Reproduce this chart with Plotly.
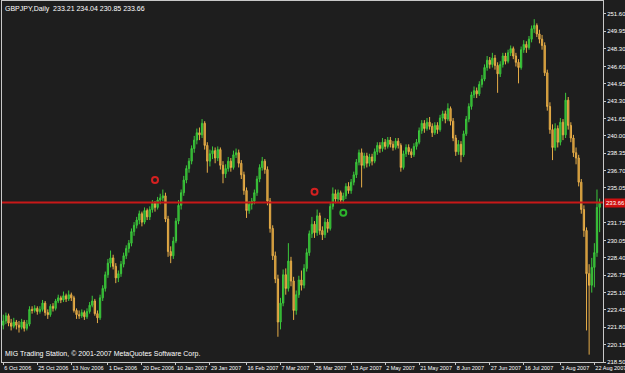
import pandas as pd
import plotly.graph_objects as go

# ---------------- data ----------------
holidays = ["2006-12-25", "2007-01-01"]
dates = [d for d in pd.bdate_range("2006-10-06", "2007-08-24") if d.strftime("%Y-%m-%d") not in holidays]

opens = [222.0, 222.4, 222.9, 222.2, 221.9, 222.3, 222.0, 221.8, 222.3, 221.7,
         222.1, 223.5, 223.4, 223.6, 223.3, 223.5, 224.1, 223.2, 223.0, 223.8,
         223.6, 224.3, 224.6, 224.4, 224.8, 224.5, 224.9, 224.6, 223.4, 223.0,
         222.9, 223.2, 222.8, 223.3, 223.9, 224.3, 223.1, 222.7, 224.6, 225.5,
         226.8, 227.9, 228.4, 227.6, 226.5, 226.9, 227.8, 228.6, 229.3, 229.8,
         230.9, 231.5, 232.0, 232.6, 231.8, 232.9, 232.3, 233.0, 233.6, 233.2,
         233.9, 234.1, 234.3, 232.1, 229.0, 228.6, 230.0, 231.9, 233.4, 234.6,
         235.8, 236.9, 237.6, 238.8, 239.6, 240.3, 240.1, 241.2, 239.1, 237.6,
         238.3, 238.6, 237.9, 238.7, 237.2, 236.4, 236.9, 237.6, 237.0, 238.2,
         238.4, 237.4, 236.3, 234.8, 232.9, 233.5, 233.8, 234.6, 235.9, 237.0,
         237.6, 236.8, 233.8, 231.2, 228.6, 226.4, 222.3, 224.1, 226.8, 225.5,
         228.1, 226.2, 223.4, 224.9, 226.3, 225.8, 227.4, 228.9, 230.7, 231.6,
         230.8, 232.4, 231.0, 230.6, 231.8, 231.2, 233.3, 234.5, 234.0, 234.6,
         233.9, 234.3, 235.2, 234.8, 235.6, 236.3, 237.5, 238.4, 237.2, 238.1,
         237.4, 238.0, 237.6, 238.5, 239.1, 238.8, 239.4, 239.0, 239.6, 239.2,
         238.9, 239.5, 239.1, 237.0, 238.3, 238.9, 238.5, 238.2, 239.0, 239.4,
         240.5, 241.2, 240.7, 241.3, 240.9, 240.3, 241.0, 240.6, 241.7, 242.1,
         241.6, 242.6, 241.4, 239.8, 238.5, 239.2, 238.2, 240.2, 241.6, 242.8,
         243.9, 244.3, 244.0, 244.9, 245.4, 246.5, 247.2, 246.8, 247.4, 246.7,
         245.9, 246.8, 247.6, 247.1, 247.9, 248.3, 247.6, 247.0, 246.5, 248.2,
         248.7, 248.4, 249.2, 250.2, 250.5, 249.7, 249.2, 248.6, 246.0, 242.8,
         240.6, 238.9, 240.7, 239.4, 241.3, 240.1, 243.4, 241.0, 239.8, 238.4,
         237.9, 235.6, 233.0, 231.0, 226.9, 225.8, 227.5, 228.9, 233.21]

highs = [223.0, 223.2, 223.1, 222.6, 222.7, 222.5, 222.4, 222.6, 222.5, 222.5,
         223.8, 223.8, 223.9, 223.8, 223.8, 224.4, 224.3, 223.5, 224.0, 224.1,
         224.5, 224.9, 224.8, 225.2, 225.0, 225.3, 225.1, 224.8, 223.6, 223.4,
         223.5, 223.4, 223.6, 224.2, 224.8, 224.5, 223.4, 224.9, 225.8, 227.1,
         228.3, 229.1, 228.7, 227.9, 227.2, 228.1, 228.9, 229.6, 230.1, 231.2,
         231.8, 232.3, 232.9, 232.8, 233.2, 233.1, 233.3, 233.9, 233.8, 234.2,
         234.5, 234.9, 234.6, 232.4, 229.5, 230.4, 232.2, 233.9, 234.9, 236.2,
         237.2, 237.9, 239.1, 240.0, 240.7, 240.8, 241.6, 241.4, 239.4, 238.7,
         239.0, 238.9, 239.0, 238.9, 237.6, 237.3, 238.0, 237.9, 238.6, 238.8,
         238.7, 237.7, 236.6, 235.1, 233.8, 234.1, 234.9, 236.2, 237.3, 238.0,
         237.8, 237.1, 234.1, 231.5, 229.0, 226.8, 224.6, 227.3, 227.4, 229.8,
         228.5, 226.6, 225.3, 226.7, 227.2, 227.8, 229.3, 231.0, 232.3, 231.9,
         233.0, 232.7, 231.4, 232.2, 232.1, 233.6, 235.1, 234.9, 234.9, 234.8,
         234.6, 235.5, 235.6, 235.9, 236.6, 237.8, 238.7, 238.8, 238.4, 238.4,
         238.3, 238.3, 238.8, 239.4, 239.4, 239.8, 239.7, 239.9, 239.9, 239.5,
         239.8, 239.8, 239.3, 238.6, 239.2, 239.2, 238.8, 239.3, 239.7, 240.8,
         241.5, 241.5, 241.7, 241.8, 241.2, 241.3, 241.3, 242.0, 242.4, 242.4,
         243.1, 242.8, 241.7, 240.1, 239.6, 239.5, 240.5, 241.9, 243.1, 244.2,
         244.7, 244.6, 245.2, 245.8, 246.8, 247.6, 247.5, 247.9, 247.7, 247.0,
         247.1, 247.9, 247.9, 248.2, 248.6, 248.5, 247.9, 247.3, 248.5, 249.1,
         249.0, 249.5, 250.5, 251.1, 250.7, 250.1, 249.6, 248.9, 246.3, 243.2,
         241.1, 241.2, 241.0, 241.7, 241.6, 244.1, 243.7, 241.3, 240.1, 238.9,
         238.2, 235.9, 233.4, 231.3, 227.8, 228.4, 229.8, 234.9, 234.04]

lows = [221.6, 222.1, 221.9, 221.5, 221.7, 221.6, 221.3, 221.6, 221.4, 221.5,
        221.9, 223.1, 223.2, 223.0, 223.1, 223.3, 222.9, 222.6, 222.8, 223.3,
        223.4, 224.1, 224.1, 224.2, 224.2, 224.3, 224.3, 223.2, 222.6, 222.6,
        222.7, 222.5, 222.6, 223.1, 223.7, 222.9, 222.2, 222.5, 224.3, 225.2,
        226.5, 227.5, 227.3, 226.0, 226.1, 226.6, 227.5, 228.3, 228.9, 229.5,
        230.5, 231.2, 231.6, 231.4, 231.6, 232.0, 232.0, 232.7, 232.8, 233.0,
        233.5, 233.8, 231.8, 228.5, 227.9, 228.3, 229.8, 231.6, 233.0, 234.3,
        235.5, 236.5, 237.3, 238.4, 239.2, 239.6, 239.8, 238.7, 236.5, 237.1,
        237.8, 237.4, 237.6, 236.8, 235.5, 236.0, 236.6, 236.6, 236.8, 237.9,
        237.0, 235.9, 234.4, 232.2, 232.6, 233.0, 233.5, 234.3, 235.6, 236.7,
        236.4, 233.4, 230.8, 228.2, 226.0, 220.9, 221.6, 223.8, 224.9, 225.2,
        225.7, 222.5, 223.0, 224.6, 225.3, 225.5, 227.1, 228.6, 230.3, 230.3,
        230.5, 230.6, 230.1, 230.3, 230.8, 231.0, 233.0, 233.6, 233.7, 233.6,
        233.6, 234.0, 234.5, 234.5, 235.3, 236.0, 237.2, 235.1, 236.9, 237.0,
        237.1, 237.2, 237.4, 238.2, 238.4, 238.5, 238.7, 238.8, 238.9, 238.6,
        238.7, 238.8, 236.6, 236.8, 238.0, 238.2, 237.9, 238.0, 238.7, 239.2,
        240.2, 240.3, 240.5, 240.6, 239.9, 240.1, 240.2, 240.4, 241.4, 241.2,
        241.4, 241.0, 239.5, 238.1, 238.2, 237.5, 238.0, 240.0, 241.3, 242.5,
        243.6, 243.6, 243.8, 244.6, 245.2, 246.2, 246.4, 246.5, 246.3, 244.1,
        245.6, 246.5, 246.8, 246.9, 247.6, 247.3, 246.6, 245.0, 246.3, 247.9,
        247.9, 248.2, 248.9, 249.8, 249.4, 248.8, 248.2, 245.7, 242.4, 240.2,
        237.7, 238.6, 238.9, 239.1, 239.6, 239.8, 240.6, 239.4, 238.0, 237.3,
        235.2, 232.6, 230.4, 221.5, 219.2, 225.1, 225.6, 228.5, 230.85]

closes = [222.4, 222.9, 222.2, 221.9, 222.3, 222.0, 221.8, 222.3, 221.7, 222.1,
          223.5, 223.4, 223.6, 223.3, 223.5, 224.1, 223.2, 223.0, 223.8, 223.6,
          224.3, 224.6, 224.4, 224.8, 224.5, 224.9, 224.6, 223.4, 223.0, 222.9,
          223.2, 222.8, 223.3, 223.9, 224.3, 223.1, 222.7, 224.6, 225.5, 226.8,
          227.9, 228.4, 227.6, 226.5, 226.9, 227.8, 228.6, 229.3, 229.8, 230.9,
          231.5, 232.0, 232.6, 231.8, 232.9, 232.3, 233.0, 233.6, 233.2, 233.9,
          234.1, 234.3, 232.1, 229.0, 228.6, 230.0, 231.9, 233.4, 234.6, 235.8,
          236.9, 237.6, 238.8, 239.6, 240.3, 240.1, 241.2, 239.1, 237.6, 238.3,
          238.6, 237.9, 238.7, 237.2, 236.4, 236.9, 237.6, 237.0, 238.2, 238.4,
          237.4, 236.3, 234.8, 232.9, 233.5, 233.8, 234.6, 235.9, 237.0, 237.6,
          236.8, 233.8, 231.2, 228.6, 226.4, 222.3, 224.1, 226.8, 225.5, 228.1,
          226.2, 223.4, 224.9, 226.3, 225.8, 227.4, 228.9, 230.7, 231.6, 230.8,
          232.4, 231.0, 230.6, 231.8, 231.2, 233.3, 234.5, 234.0, 234.6, 233.9,
          234.3, 235.2, 234.8, 235.6, 236.3, 237.5, 238.4, 237.2, 238.1, 237.4,
          238.0, 237.6, 238.5, 239.1, 238.8, 239.4, 239.0, 239.6, 239.2, 238.9,
          239.5, 239.1, 237.0, 238.3, 238.9, 238.5, 238.2, 239.0, 239.4, 240.5,
          241.2, 240.7, 241.3, 240.9, 240.3, 241.0, 240.6, 241.7, 242.1, 241.6,
          242.6, 241.4, 239.8, 238.5, 239.2, 238.2, 240.2, 241.6, 242.8, 243.9,
          244.3, 244.0, 244.9, 245.4, 246.5, 247.2, 246.8, 247.4, 246.7, 245.9,
          246.8, 247.6, 247.1, 247.9, 248.3, 247.6, 247.0, 246.5, 248.2, 248.7,
          248.4, 249.2, 250.2, 250.5, 249.7, 249.2, 248.6, 246.0, 242.8, 240.6,
          238.9, 240.7, 239.4, 241.3, 240.1, 243.4, 241.0, 239.8, 238.4, 237.9,
          235.6, 233.0, 231.0, 226.9, 225.8, 227.5, 228.9, 233.2, 233.66]

x_tick_dates = ["2006-10-06", "2006-10-25", "2006-11-13", "2006-12-01", "2006-12-20",
                "2007-01-10", "2007-01-29", "2007-02-16", "2007-03-07", "2007-03-26",
                "2007-04-13", "2007-05-02", "2007-05-21", "2007-06-08", "2007-06-27",
                "2007-07-16", "2007-08-03", "2007-08-22"]
x_tick_labels = ["6 Oct 2006", "25 Oct 2006", "13 Nov 2006", "1 Dec 2006", "20 Dec 2006",
                 "10 Jan 2007", "29 Jan 2007", "16 Feb 2007", "7 Mar 2007", "26 Mar 2007",
                 "13 Apr 2007", "2 May 2007", "21 May 2007", "8 Jun 2007", "27 Jun 2007",
                 "16 Jul 2007", "3 Aug 2007", "22 Aug 2007"]

y_tick_values = [251.60, 249.95, 248.30, 246.60, 244.95, 243.30, 241.65, 240.00, 238.35,
                 236.70, 235.05, 231.75, 230.05, 228.40, 226.75, 225.10, 223.45,
                 221.80, 220.15, 218.50]
y_tick_labels = ["251.60", "249.95", "248.30", "246.60", "244.95", "243.30", "241.65",
                 "240.00", "238.35", "236.70", "235.05", "231.75", "230.05", "228.40",
                 "226.75", "225.10", "223.45", "221.80", "220.15", "218.50"]

signal_dates = ["2006-12-28", "2007-03-26", "2007-04-10"]
signal_prices = [235.8, 234.7, 232.7]
signal_colors = ["#d42020", "#d42020", "#2cb42c"]

current_price = 233.66
title_text = "GBPJPY,Daily  233.21 234.04 230.85 233.66"
footer_text = "MIG Trading Station, © 2001-2007 MetaQuotes Software Corp."

# ---------------- build ----------------
date_strs = [d.strftime("%Y-%m-%d") for d in dates]
idx = list(range(len(date_strs)))
tick_pos = [date_strs.index(d) for d in x_tick_dates]
sig_pos = [date_strs.index(d) for d in signal_dates]

BG = "#1e1e1e"
FONT = "Liberation Sans Narrow, Liberation Sans, sans-serif"

fig = go.Figure()
fig.add_trace(go.Candlestick(
    x=idx, open=opens, high=highs, low=lows, close=closes,
    increasing=dict(line=dict(color="#3cc83c", width=1), fillcolor="#2aa52a"),
    decreasing=dict(line=dict(color="#e6ad48", width=1), fillcolor="#b9852c"),
    whiskerwidth=0, showlegend=False, hoverinfo="skip",
))
fig.add_trace(go.Scatter(
    x=sig_pos, y=signal_prices, mode="markers",
    marker=dict(symbol="circle-open", size=6, color=signal_colors, line=dict(width=2, color=signal_colors)),
    showlegend=False, hoverinfo="skip",
))

fig.add_shape(type="line", xref="paper", x0=0, x1=1, yref="y", y0=current_price, y1=current_price,
              line=dict(color="#c81818", width=2))

fig.add_annotation(xref="paper", yref="y", x=1.0, y=current_price, xanchor="left", yanchor="middle",
                   text=f"{current_price:.2f}", showarrow=False, bgcolor="#d01010",
                   font=dict(family=FONT, size=6, color="white"), borderpad=1, xshift=1)
fig.add_annotation(xref="paper", yref="paper", x=0.002, y=0.995, xanchor="left", yanchor="top",
                   text=title_text, showarrow=False, font=dict(family=FONT, size=7, color="white"))
fig.add_annotation(xref="paper", yref="paper", x=0.002, y=0.005, xanchor="left", yanchor="bottom",
                   text=footer_text, showarrow=False, font=dict(family=FONT, size=7, color="white"))

fig.update_layout(
    width=625, height=373,
    margin=dict(l=2, r=22, t=1, b=11, autoexpand=False),
    paper_bgcolor=BG, plot_bgcolor=BG,
    font=dict(family=FONT, size=6, color="white"),
    showlegend=False,
    xaxis=dict(
        range=[-0.5, 229.3], rangeslider=dict(visible=False),
        tickvals=tick_pos, ticktext=x_tick_labels, ticklabelposition="outside right",
        ticklabeloverflow="allow",
        tickangle=0, automargin=False,
        ticks="outside", ticklen=2, tickcolor="#c8c8c8",
        showgrid=False, zeroline=False, showline=True, linecolor="#c8c8c8", linewidth=1, mirror=True,
        tickfont=dict(family=FONT, size=5.5, color="white"),
    ),
    yaxis=dict(
        side="right", range=[218.5, 252.83], automargin=False,
        tickvals=y_tick_values, ticktext=y_tick_labels,
        ticks="outside", ticklen=2, tickcolor="#c8c8c8",
        showgrid=False, zeroline=False, showline=True, linecolor="#c8c8c8", linewidth=1, mirror=True,
        tickfont=dict(family=FONT, size=6, color="white"),
    ),
)

fig.write_html("out.html")
